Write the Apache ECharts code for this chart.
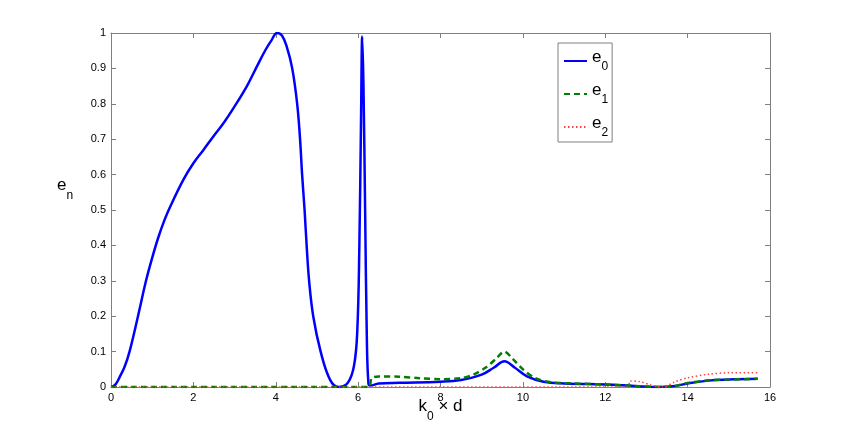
<!DOCTYPE html>
<html>
<head>
<meta charset="utf-8">
<script src="https://cdn.jsdelivr.net/npm/echarts@6/dist/echarts.min.js"></script>
<style>
  html, body { margin: 0; padding: 0; background: #fff; }
  #chart { width: 853px; height: 436px; }
</style>
</head>
<body>
<div id="chart"></div>
<script>
// values, x = k0*d
const e0 = [
  [0, 0], [0.1, 0.006], [0.21, 0.028], [0.33, 0.057], [0.45, 0.1], [0.655, 0.2],
  [0.85, 0.3], [1.0, 0.365], [1.15, 0.423], [1.3, 0.472], [1.42, 0.505], [1.755, 0.585],
  [2.0, 0.632], [2.24, 0.669], [2.48, 0.707], [2.73, 0.745], [2.97, 0.787], [3.3, 0.85],
  [3.54, 0.905], [3.75, 0.952], [3.9, 0.98], [4.03, 1.0], [4.15, 0.993], [4.27, 0.96],
  [4.4, 0.9], [4.52, 0.8], [4.59, 0.7], [4.64, 0.6], [4.7, 0.5], [4.75, 0.4], [4.81, 0.3],
  [4.91, 0.2], [5.09, 0.1], [5.32, 0.02], [5.52, 0], [5.75, 0.012], [5.9, 0.06],
  [5.98, 0.16], [6.03, 0.4], [6.07, 0.75], [6.1, 0.99], [6.13, 0.85], [6.17, 0.5],
  [6.21, 0.15], [6.25, 0.01], [6.3, 0.004], [6.5, 0.01], [7, 0.012], [8, 0.015],
  [8.5, 0.02], [9, 0.035], [9.3, 0.055], [9.55, 0.073], [9.8, 0.055], [10.1, 0.03],
  [10.5, 0.015], [11, 0.01], [12, 0.007], [12.7, 0.003], [13.3, 0], [13.7, 0.003],
  [14, 0.01], [14.5, 0.018], [15, 0.021], [15.7, 0.023]
];
const e1 = [
  [0, 0], [6.25, 0], [6.33, 0.025], [6.5, 0.03], [7, 0.029], [7.5, 0.025], [8, 0.022],
  [8.5, 0.025], [8.8, 0.035], [9.1, 0.055], [9.35, 0.08], [9.55, 0.1], [9.75, 0.08],
  [10, 0.05], [10.3, 0.025], [10.7, 0.013], [11, 0.011], [12, 0.007], [12.7, 0.003],
  [13.3, 0], [13.7, 0.003], [14, 0.011], [14.5, 0.019], [15, 0.021], [15.7, 0.023]
];
const e2 = [
  [0, 0], [12.55, 0], [12.6, 0.017], [12.85, 0.015], [13.1, 0.006], [13.4, 0],
  [13.7, 0.015], [14, 0.026], [14.5, 0.036], [15, 0.04], [15.7, 0.04]
];
const seriesNames = ['e0', 'e1', 'e2'];
const subs = ['0', '1', '2'];

const chart = echarts.init(document.getElementById('chart'));
const frame = '#808080';
const font = 'Liberation Sans, Arial, sans-serif';

// mirrored axes on top/right, ticks only (matlab box)
const sideAxis = (pos) => ({
  type: 'value', position: pos, min: 0,
  max: pos === 'top' ? 16 : 1, interval: pos === 'top' ? 2 : 0.1,
  axisLine: { show: true, onZero: false, lineStyle: { color: frame, width: 1 } },
  axisTick: { show: true, inside: true, length: 5, lineStyle: { color: frame } },
  axisLabel: { show: false }, splitLine: { show: false }
});

chart.setOption({
  animation: false,
  grid: { left: 111, top: 33, width: 659, height: 354 },
  xAxis: [{
    type: 'value', min: 0, max: 16, interval: 2,
    axisLine: { onZero: false, lineStyle: { color: frame, width: 1 } },
    axisTick: { inside: true, length: 5, lineStyle: { color: frame } },
    axisLabel: { color: '#000', fontSize: 11, fontFamily: font, margin: 5 },
    splitLine: { show: false },
    name: '{k|k}{s|0}{k| × d}', nameLocation: 'middle', nameGap: 11,
    nameMoveOverlap: false,
    nameTextStyle: {
      fontFamily: font, color: '#000',
      rich: {
        k: { fontSize: 17, fontFamily: font, color: '#000', verticalAlign: 'bottom', padding: [0, 0, 8, 0] },
        s: { fontSize: 12, fontFamily: font, color: '#000', verticalAlign: 'bottom' }
      }
    }
  }, sideAxis('top')],
  yAxis: [{
    type: 'value', min: 0, max: 1, interval: 0.1,
    axisLine: { show: true, onZero: false, lineStyle: { color: frame, width: 1 } },
    axisTick: { show: true, inside: true, length: 5, lineStyle: { color: frame } },
    axisLabel: { color: '#000', fontSize: 11, fontFamily: font, margin: 5 },
    splitLine: { show: false }
  }, sideAxis('right')],
  legend: {
    orient: 'vertical', left: 558, top: 43,
    data: seriesNames,
    itemStyle: { opacity: 0 },
    backgroundColor: '#fff', borderColor: frame, borderWidth: 1,
    padding: [6, 4, 3, 5], itemWidth: 23, itemHeight: 10, itemGap: 9,
    formatter: (name) => '{b|e}{s|' + subs[seriesNames.indexOf(name)] + '}',
    textStyle: {
      rich: {
        b: { fontSize: 17, fontFamily: font, color: '#000', verticalAlign: 'bottom', padding: [0, 0, 7, 0] },
        s: { fontSize: 12, fontFamily: font, color: '#000', verticalAlign: 'bottom' }
      }
    }
  },
  graphic: [{
    type: 'text', left: 57, top: 177,
    style: {
      text: '{b|e}{s|n}', font: '17px ' + font,
      rich: {
        b: { fontSize: 17, fontFamily: font, fill: '#000', verticalAlign: 'bottom', padding: [0, 0, 8, 0] },
        s: { fontSize: 12, fontFamily: font, fill: '#000', verticalAlign: 'bottom' }
      }
    }
  }],
  series: [
    { name: 'e0', type: 'line', data: e0, symbol: 'none', smooth: 0.4,
      lineStyle: { color: '#0000ff', width: 2.5 }, itemStyle: { color: '#0000ff' } },
    { name: 'e1', type: 'line', data: e1, symbol: 'none', smooth: 0.3,
      lineStyle: { color: '#008000', width: 2.5, type: [6, 4] }, itemStyle: { color: '#008000' } },
    { name: 'e2', type: 'line', data: e2, symbol: 'none', smooth: 0.3,
      lineStyle: { color: '#ff4040', width: 1.5, type: [1.5, 2.5] }, itemStyle: { color: '#ff4040' } }
  ]
});
</script>
</body>
</html>
